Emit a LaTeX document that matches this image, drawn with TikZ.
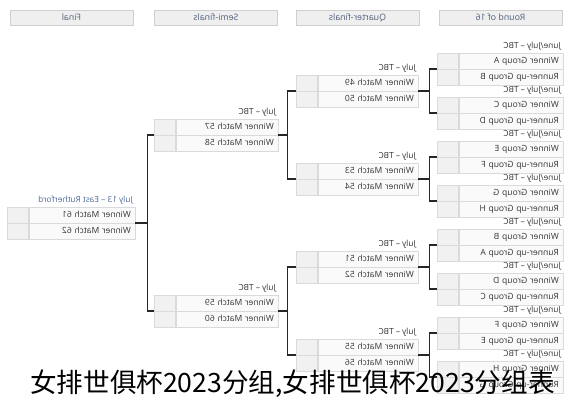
\documentclass[tikz,border=0pt]{standalone}
\usepackage{graphicx}
\usepackage{fontspec}
\setmainfont{Open Sans}
\newfontfamily\cjk{Noto Sans CJK SC}
\usetikzlibrary{positioning}

\definecolor{cellline}{HTML}{DADADA}
\definecolor{scorefill}{HTML}{F1F1F1}
\definecolor{teamfill}{HTML}{FAFAFA}
\definecolor{headfill}{HTML}{EFEFEF}
\definecolor{headline}{HTML}{CFCFCF}
\definecolor{headtext}{HTML}{4F5F7C}
\definecolor{teamtext}{HTML}{333333}
\definecolor{venue}{HTML}{50689A}

% the whole sheet is printed mirrored
\newcommand{\flip}[1]{\reflectbox{#1}}

% one match: name, right x, divider y, name cell width, date line, top team, bottom team
\newcommand{\game}[7]{%
  \pgfmathsetmacro{\tw}{#4-8}
  \node[team, minimum width=#4pt, text width=\tw pt, anchor=south east] (#1a) at (#2,#3) {\flip{#6}};
  \node[team, minimum width=#4pt, text width=\tw pt, anchor=north east] (#1b) at (#2,#3) {\flip{#7}};
  \node[score, anchor=north east] (#1s) at (#1a.north west) {};
  \node[score, anchor=north east] (#1t) at (#1b.north west) {};
  \node[when, anchor=south east] (#1w) at (#1a.north east) {\flip{#5}};
}

\begin{document}
\begin{tikzpicture}[x=1pt,y=-1pt,
    head/.style={draw=headline,fill=headfill,minimum width=123pt,minimum height=15pt,
      inner sep=0pt,text=headtext,font=\fontsize{8.8}{10}\selectfont},
    team/.style={draw=cellline,fill=teamfill,minimum height=16pt,inner xsep=4pt,inner ysep=0pt,
      align=right,text height=6.5pt,text depth=2pt,text=teamtext,font=\fontsize{8.5}{10}\selectfont},
    score/.style={draw=cellline,fill=scorefill,minimum width=21pt,minimum height=16pt,inner sep=0pt},
    when/.style={inner xsep=2pt,inner ysep=1.5pt,text=teamtext,font=\fontsize{8.3}{10}\selectfont},
    link/.style={draw=black!85,line width=1.2pt},
    caption/.style={inner sep=0pt,text=black,font=\fontsize{26.6}{30}\cjk}]
  \fill[white] (0,0) rectangle (573,400);
  \useasboundingbox (0,0) rectangle (573,400);

  % round headers
  \node[head] (hfinal) at (71.5,17.5) {\flip{Final}};
  \node[head] (hsemi) at (216,17.5) {\flip{Semi-finals}};
  \node[head] (hquarter) at (357.5,17.5) {\flip{Quarter-finals}};
  \node[head] (hround) at (500.5,17.5) {\flip{Round of 16}};

  % round of 16
  \foreach \i/\y/\p/\q in {1/69/A/B,2/113/C/D,3/157/E/F,4/201/G/H,5/245/B/A,6/289/D/C,7/333/F/E,8/377/H/G}
    {\game{r\i}{563}{\y}{104}{June/July – TBC}{Winner Group \p}{Runner-up Group \q}}

  % quarter-finals
  \game{q49}{418}{91}{100}{July – TBC}{Winner Match 49}{Winner Match 50}
  \game{q53}{418}{179}{100}{July – TBC}{Winner Match 53}{Winner Match 54}
  \game{q51}{418}{267}{100}{July – TBC}{Winner Match 51}{Winner Match 52}
  \game{q55}{418}{355}{100}{July – TBC}{Winner Match 55}{Winner Match 56}

  % semi-finals
  \game{s57}{278}{135}{102}{July – TBC}{Winner Match 57}{Winner Match 58}
  \game{s59}{278}{311}{102}{July – TBC}{Winner Match 59}{Winner Match 60}

  % final
  \game{f61}{135}{223}{106}{\textcolor{venue}{July 13 – East Rutherford}}{Winner Match 61}{Winner Match 62}

  % brackets
  \foreach \u/\v/\m in {1/2/49,3/4/53,5/6/51,7/8/55}{
    \draw[link] (r\u s.south west) -- ++(-8,0) coordinate (k\m) |- (r\v s.south west);
    \draw[link] (q\m a.south east) -- (q\m a.south east -| k\m);
  }
  \draw[link] (q49s.south west) -- ++(-9,0) coordinate (k57) |- (q53s.south west);
  \draw[link] (s57a.south east) -- (s57a.south east -| k57);
  \draw[link] (q51s.south west) -- ++(-9,0) coordinate (k59) |- (q55s.south west);
  \draw[link] (s59a.south east) -- (s59a.south east -| k59);
  \draw[link] (s57s.south west) -- ++(-7,0) coordinate (k61) |- (s59s.south west);
  \draw[link] (f61a.south east) -- (f61a.south east -| k61);

  % caption laid over the sheet
  \node[caption, anchor=base west] (title) at (30,392) {女排世俱杯2023分组,女排世俱杯2023分组表};
\end{tikzpicture}
\end{document}
